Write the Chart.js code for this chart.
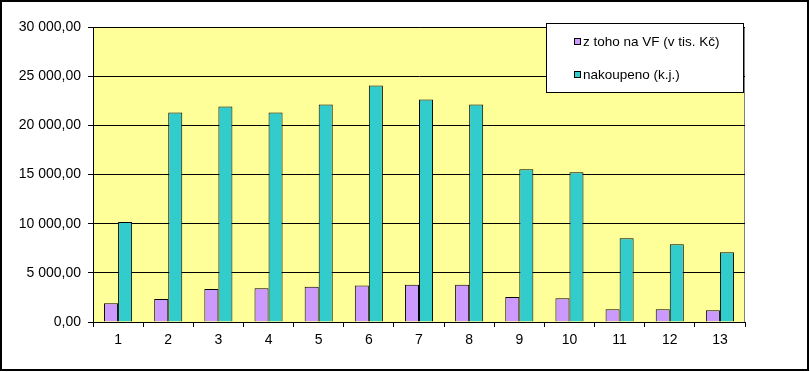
<!DOCTYPE html>
<html>
<head>
<meta charset="utf-8">
<script src="https://cdn.jsdelivr.net/npm/chart.js@4"></script>
<style>
    html, body { margin: 0; padding: 0; background: #fff; }
    #wrap { width: 810px; height: 372px; }
</style>
</head>
<body>
<div id="wrap"><canvas id="graf" width="810" height="372"></canvas></div>
<script>
// Data
const kategorie = ['1', '2', '3', '4', '5', '6', '7', '8', '9', '10', '11', '12', '13'];
const naVF = [1900, 2340, 3360, 3430, 3590, 3700, 3800, 3800, 2540, 2410, 1290, 1290, 1190];
const nakoupeno = [10170, 21310, 21920, 21310, 22130, 24060, 22620, 22130, 15530, 15220, 8510, 7900, 7090];
const nazvyRad = ['z toho na VF (v tis. Kč)', 'nakoupeno (k.j.)'];
const barvyRad = ['#CC99FF', '#33CCCC'];

// Czech number format: "25 000,00"
const formatCislo = (v) => {
    const [cele, des] = Number(v).toFixed(2).split('.');
    return cele.replace(/\B(?=(\d{3})+(?!\d))/g, ' ') + ',' + des;
};

// Yellow plot background, gray plot frame, outer chart border
const pozadiPlugin = {
    id: 'pozadi',
    beforeDraw(chart) {
        const { ctx, chartArea: a } = chart;
        ctx.save();
        ctx.fillStyle = '#FFFF99';
        ctx.fillRect(a.left, a.top, a.right - a.left, a.bottom - a.top);
        ctx.strokeStyle = '#808080';
        ctx.lineWidth = 1;
        ctx.strokeRect(a.left + 0.5, a.top + 0.5, a.right - a.left - 1, a.bottom - a.top);
        ctx.restore();
    },
    afterDraw(chart) {
        const { ctx } = chart;
        ctx.save();
        ctx.strokeStyle = '#000';
        ctx.lineWidth = 2;
        ctx.strokeRect(1, 1, 807, 369);
        ctx.restore();
    }
};

// Legend box drawn over the top right of the plot, like the Excel original
const legendaPlugin = {
    id: 'legendaBox',
    afterDraw(chart) {
        const { ctx } = chart;
        const x = 546, y = 23, w = 197, h = 69;
        ctx.save();
        ctx.fillStyle = '#fff';
        ctx.fillRect(x, y, w, h);
        ctx.strokeStyle = '#000';
        ctx.lineWidth = 1;
        ctx.strokeRect(x + 0.5, y + 0.5, w, h);
        ctx.font = '13.5px "Liberation Sans", Arial, sans-serif';
        ctx.textBaseline = 'middle';
        chart.data.datasets.forEach((ds, i) => {
            const cy = 42 + i * 33;
            ctx.fillStyle = ds.backgroundColor;
            ctx.fillRect(574.5, cy - 3.5, 6, 6);
            ctx.strokeStyle = '#000';
            ctx.strokeRect(574.5, cy - 3.5, 6, 6);
            ctx.fillStyle = '#000';
            ctx.fillText(ds.label, 583, cy + 0.5);
        });
        ctx.restore();
    }
};

const ctx = document.getElementById('graf').getContext('2d');
new Chart(ctx, {
    type: 'bar',
    data: {
        labels: kategorie,
        datasets: [
            { label: nazvyRad[0], data: naVF, backgroundColor: barvyRad[0] },
            { label: nazvyRad[1], data: nakoupeno, backgroundColor: barvyRad[1] }
        ].map(ds => ({
            ...ds,
            borderColor: '#000',
            borderWidth: 1,
            borderSkipped: 'bottom',
            categoryPercentage: 0.56,
            barPercentage: 1
        }))
    },
    options: {
        responsive: false,
        animation: false,
        layout: { padding: { left: 0, top: 27, right: 65, bottom: 0 } },
        plugins: {
            legend: { display: false },
            tooltip: { enabled: false }
        },
        scales: {
            x: {
                afterFit: (s) => { s.height = 50; },
                offset: true,
                grid: { offset: true, drawOnChartArea: false, color: '#000', tickLength: 5 },
                border: { color: '#000' },
                ticks: {
                    color: '#000',
                    padding: 5,
                    font: { family: '"Liberation Sans", Arial, sans-serif', size: 14 },
                    maxRotation: 0
                }
            },
            y: {
                min: 0,
                max: 30000,
                afterFit: (s) => { s.width = 93; },
                grid: { color: '#000', tickLength: 5 },
                border: { color: '#000' },
                ticks: {
                    stepSize: 5000,
                    color: '#000',
                    padding: 7,
                    font: { family: '"Liberation Sans", Arial, sans-serif', size: 14 },
                    callback: (v) => formatCislo(v)
                }
            }
        }
    },
    plugins: [pozadiPlugin, legendaPlugin]
});
</script>
</body>
</html>
